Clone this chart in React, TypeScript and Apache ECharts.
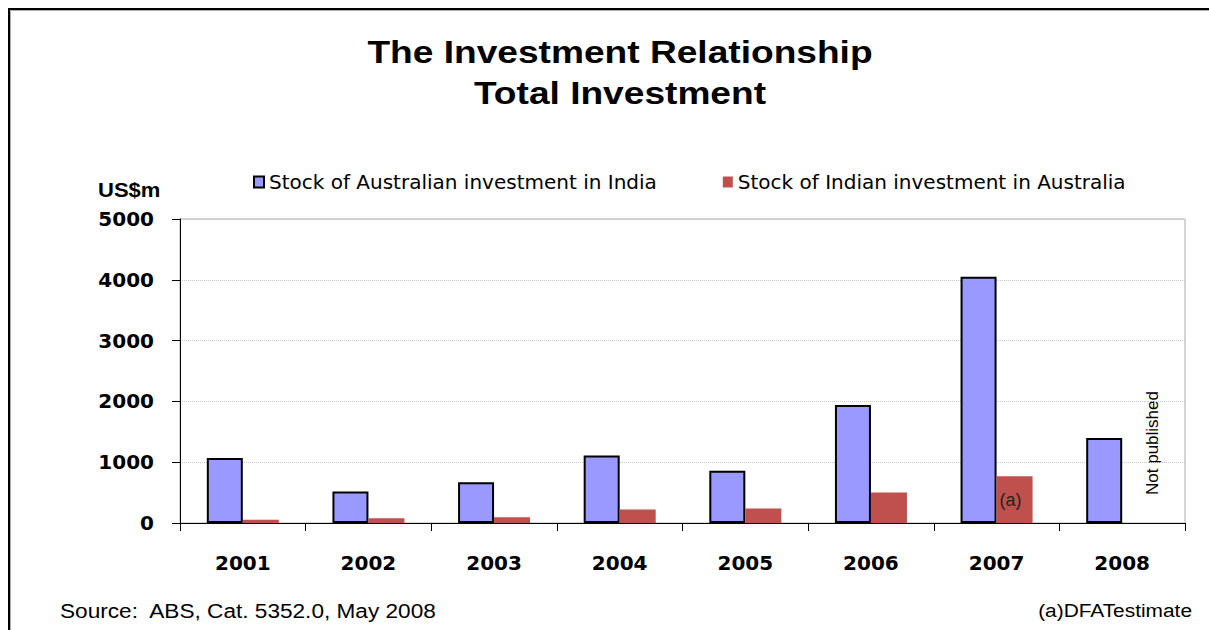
import React, { useEffect, useRef } from "react";
import * as echarts from "echarts";

const years = ["2001", "2002", "2003", "2004", "2005", "2006", "2007", "2008"];
const ausInIndia = [1070, 520, 670, 1110, 860, 1940, 4050, 1400];
const indiaInAus = [55, 77, 94, 220, 240, 500, 770, null];
const yTicks = { min: 0, max: 5000, interval: 1000 };
const seriesNames = [
  "Stock of Australian investment in India",
  "Stock of Indian investment in Australia",
];
const titleLines = ["The Investment Relationship", "Total Investment"];
const sourceNote = "Source:  ABS, Cat. 5352.0, May 2008";
const estimateNote = "(a)DFATestimate";
const notPublished = "Not published";
const unitLabel = "US$m";

export default function App() {
  const ref = useRef<HTMLDivElement>(null);
  useEffect(() => {
    if (!ref.current) return;
    const chart = echarts.init(ref.current, null, { renderer: "svg" });
    const redData = indiaInAus.map((v, i) =>
      i === 6
        ? {
            value: v,
            label: {
              show: true,
              position: "inside",
              formatter: "(a)",
              fontFamily: "Liberation Sans",
              fontSize: 18,
              color: "#222",
              offset: [-4, 0],
            },
          }
        : v
    );
    chart.setOption({
      animation: false,
      backgroundColor: "#fff",
      grid: {
        left: 180,
        right: 24,
        top: 219,
        height: 304,
        show: true,
        borderColor: "#aaa",
        borderWidth: 1,
        backgroundColor: "transparent",
      },
      legend: {
        left: 248,
        top: 167,
        itemWidth: 10,
        itemHeight: 11,
        itemGap: 66,
        icon: "rect",
        textStyle: { fontFamily: "DejaVu Sans", fontSize: 20, color: "#000" },
        data: seriesNames,
      },
      xAxis: {
        type: "category",
        data: years,
        axisLine: { lineStyle: { color: "#000", width: 1 } },
        axisTick: { show: true, length: 8, lineStyle: { color: "#000" } },
        axisLabel: {
          fontFamily: "DejaVu Sans",
          fontWeight: "bold",
          fontSize: 20,
          color: "#000",
          margin: 30,
        },
      },
      yAxis: {
        type: "value",
        min: yTicks.min,
        max: yTicks.max,
        interval: yTicks.interval,
        axisLine: { show: true, lineStyle: { color: "#000", width: 1 } },
        axisTick: { show: true, length: 8, lineStyle: { color: "#000" } },
        axisLabel: {
          fontFamily: "DejaVu Sans",
          fontWeight: "bold",
          fontSize: 20,
          color: "#000",
          margin: 26,
          formatter: (v: number) => String(v),
        },
        splitLine: {
          show: true,
          lineStyle: { color: "#c8c8c8", type: "dotted", width: 1 },
        },
      },
      series: [
        {
          name: seriesNames[0],
          type: "bar",
          data: ausInIndia,
          barWidth: 36,
          barGap: "0%",
          itemStyle: { color: "#9999FF", borderColor: "#000", borderWidth: 2 },
        },
        {
          name: seriesNames[1],
          type: "bar",
          data: redData,
          barWidth: 36,
          barGap: "0%",
          itemStyle: { color: "#C0504D" },
        },
      ],
      graphic: [
        {
          type: "rect",
          shape: { x: 9, y: 9, width: 1300, height: 700 },
          style: { fill: "none", stroke: "#000", lineWidth: 2 },
          silent: true,
        },
        {
          type: "rect",
          shape: { x: 10.5, y: 10.5, width: 1300, height: 700 },
          style: { fill: "none", stroke: "#aaa", lineWidth: 1 },
          silent: true,
        },
        {
          type: "text",
          x: 620,
          y: 52,
          scaleX: 1.16,
          style: {
            text: titleLines[0],
            align: "center",
            verticalAlign: "middle",
            fontFamily: "Liberation Sans",
            fontWeight: "bold",
            fontSize: 32,
            fill: "#000",
          },
        },
        {
          type: "text",
          x: 620,
          y: 93,
          scaleX: 1.16,
          style: {
            text: titleLines[1],
            align: "center",
            verticalAlign: "middle",
            fontFamily: "Liberation Sans",
            fontWeight: "bold",
            fontSize: 32,
            fill: "#000",
          },
        },
        {
          type: "text",
          x: 98,
          y: 190,
          scaleX: 1.1,
          style: {
            text: unitLabel,
            align: "left",
            verticalAlign: "middle",
            fontFamily: "Liberation Sans",
            fontWeight: "bold",
            fontSize: 20,
            fill: "#000",
          },
        },
        {
          type: "text",
          x: 60,
          y: 611,
          scaleX: 1.16,
          style: {
            text: sourceNote,
            align: "left",
            verticalAlign: "middle",
            fontFamily: "Liberation Sans",
            fontSize: 19.5,
            fill: "#000",
          },
        },
        {
          type: "text",
          x: 1192,
          y: 611,
          scaleX: 1.16,
          style: {
            text: estimateNote,
            align: "right",
            verticalAlign: "middle",
            fontFamily: "Liberation Sans",
            fontSize: 18,
            fill: "#000",
          },
        },
        {
          type: "text",
          x: 1152,
          y: 443,
          rotation: Math.PI / 2,
          style: {
            text: notPublished,
            align: "center",
            verticalAlign: "middle",
            fontFamily: "Liberation Sans",
            fontSize: 17,
            fill: "#000",
          },
        },
      ],
    });
    return () => chart.dispose();
  }, []);
  return (
    <div
      ref={ref}
      style={{ position: "fixed", left: 0, top: 0, width: 1209, height: 630 }}
    />
  );
}
